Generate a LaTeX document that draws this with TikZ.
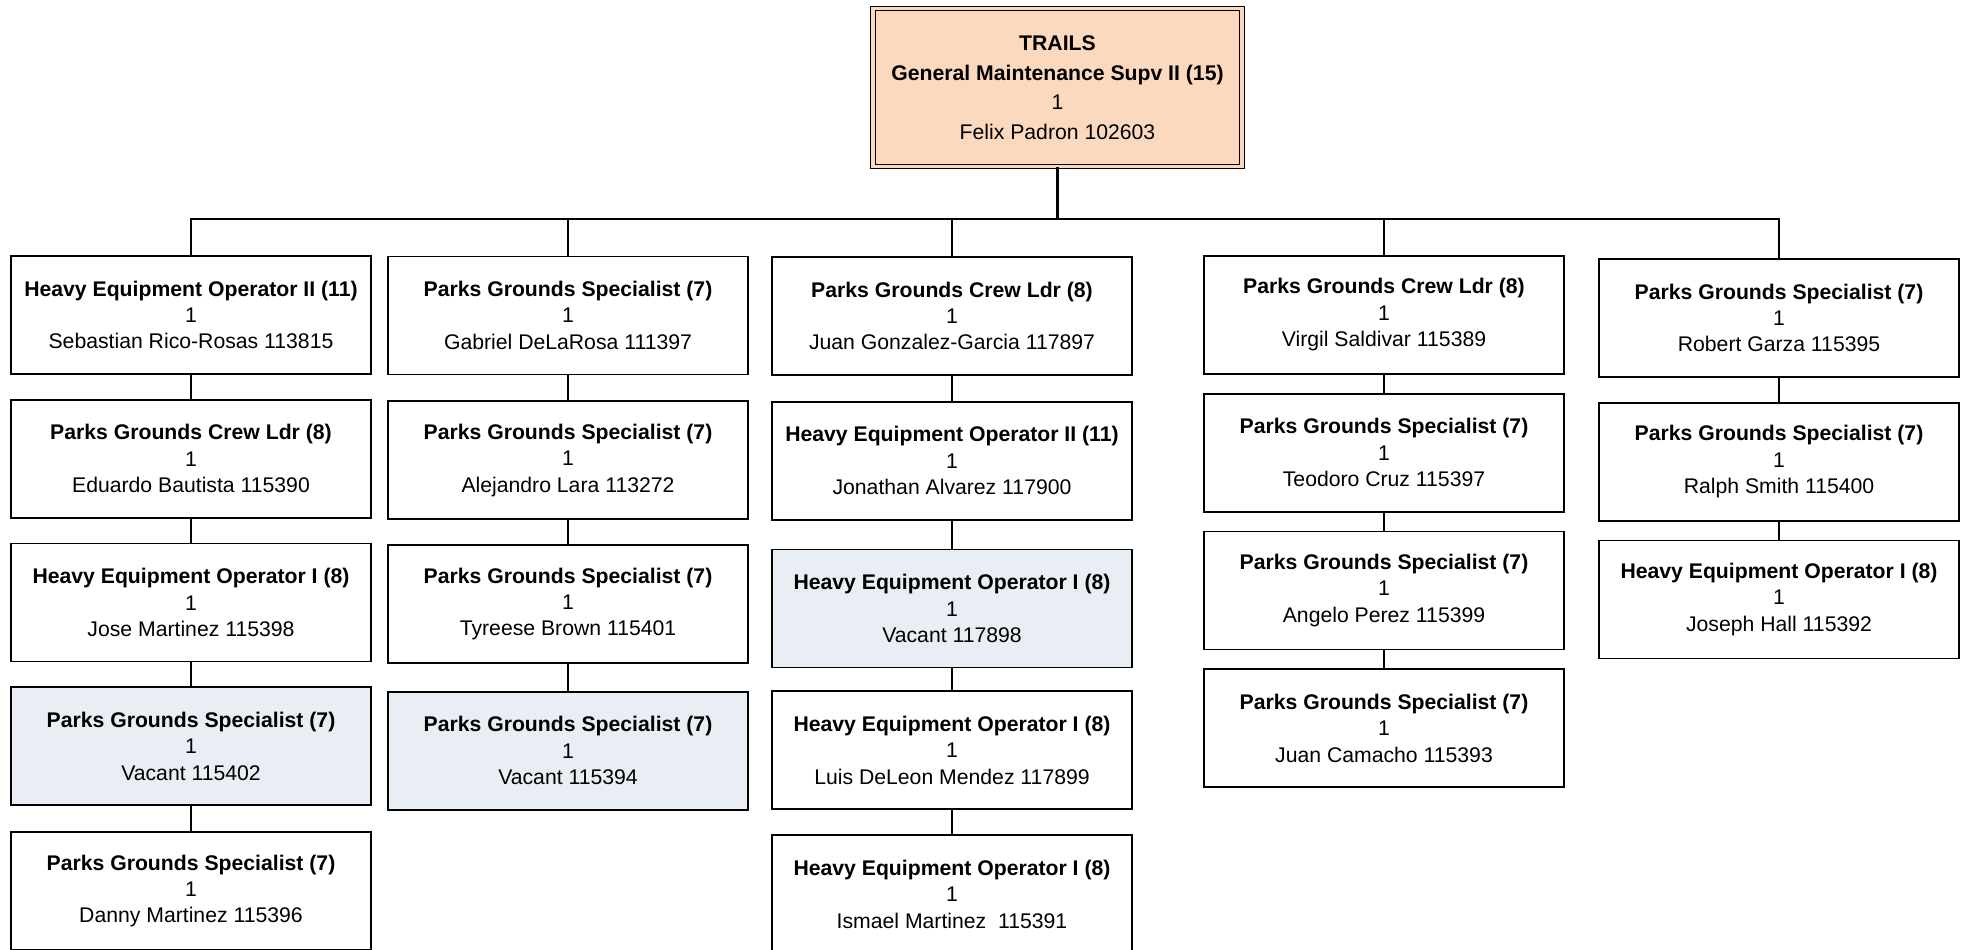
\documentclass[tikz,border=0pt]{standalone}
\usepackage{fontspec}
\setmainfont{Liberation Sans}
\usepackage{tikz}
\usetikzlibrary{positioning}

\definecolor{headfill}{RGB}{251,217,191}
\definecolor{vacantfill}{RGB}{233,237,244}

\begin{document}
\begin{tikzpicture}[
  x=0.5pt, y=-0.5pt,
  post/.style={draw, line width=0.9pt, minimum width=180pt, minimum height=59pt, inner sep=2pt,
    align=center, fill=white, font=\fontsize{10.6}{13.2}\selectfont},
  vacant/.style={post, fill=vacantfill},
  chief/.style={draw, line width=0.6pt, double=headfill, double distance=1.65pt, fill=headfill,
    minimum width=184.5pt, minimum height=79pt, inner sep=2pt, align=center,
    font=\fontsize{10.6}{14.8}\selectfont},
  link/.style={line width=0.9pt}
]
\useasboundingbox (0,0) rectangle (1965,949);

% --- Supervisor ---------------------------------------------------------------
\node[chief] (sup) at (1057.5,87.5) {\textbf{TRAILS}\\\textbf{General Maintenance Supv II (15)}\\1\\Felix Padron 102603};
\coordinate (bus) at (1057.5,219);

% --- Column 1 -----------------------------------------------------------------
\node[post, anchor=north] (a1) at (191,255) {\textbf{Heavy Equipment Operator II (11)}\\1\\Sebastian Rico-Rosas 113815};
\node[post, below=12pt of a1] (a2) {\textbf{Parks Grounds Crew Ldr (8)}\\1\\Eduardo Bautista 115390};
\node[post, below=12pt of a2] (a3) {\textbf{Heavy Equipment Operator I (8)}\\1\\Jose Martinez 115398};
\node[vacant, below=12pt of a3] (a4) {\textbf{Parks Grounds Specialist (7)}\\1\\Vacant 115402};
\node[post, below=12.5pt of a4] (a5) {\textbf{Parks Grounds Specialist (7)}\\1\\Danny Martinez 115396};

% --- Column 2 -----------------------------------------------------------------
\node[post, anchor=north] (b1) at (568,255.5) {\textbf{Parks Grounds Specialist (7)}\\1\\Gabriel DeLaRosa 111397};
\node[post, below=12.5pt of b1] (b2) {\textbf{Parks Grounds Specialist (7)}\\1\\Alejandro Lara 113272};
\node[post, below=12pt of b2] (b3) {\textbf{Parks Grounds Specialist (7)}\\1\\Tyreese Brown 115401};
\node[vacant, below=13.5pt of b3] (b4) {\textbf{Parks Grounds Specialist (7)}\\1\\Vacant 115394};

% --- Column 3 -----------------------------------------------------------------
\node[post, anchor=north] (c1) at (952,256) {\textbf{Parks Grounds Crew Ldr (8)}\\1\\Juan Gonzalez-Garcia 117897};
\node[post, below=12.5pt of c1] (c2) {\textbf{Heavy Equipment Operator II (11)}\\1\\Jonathan Alvarez 117900};
\node[vacant, below=14pt of c2] (c3) {\textbf{Heavy Equipment Operator I (8)}\\1\\Vacant 117898};
\node[post, below=11pt of c3] (c4) {\textbf{Heavy Equipment Operator I (8)}\\1\\Luis DeLeon Mendez 117899};
\node[post, below=12pt of c4] (c5) {\textbf{Heavy Equipment Operator I (8)}\\1\\Ismael Martinez\ \ 115391};

% --- Column 4 -----------------------------------------------------------------
\node[post, anchor=north] (d1) at (1384,255) {\textbf{Parks Grounds Crew Ldr (8)}\\1\\Virgil Saldivar 115389};
\node[post, below=9pt of d1] (d2) {\textbf{Parks Grounds Specialist (7)}\\1\\Teodoro Cruz 115397};
\node[post, below=9pt of d2] (d3) {\textbf{Parks Grounds Specialist (7)}\\1\\Angelo Perez 115399};
\node[post, below=9pt of d3] (d4) {\textbf{Parks Grounds Specialist (7)}\\1\\Juan Camacho 115393};

% --- Column 5 -----------------------------------------------------------------
\node[post, anchor=north] (e1) at (1779,258) {\textbf{Parks Grounds Specialist (7)}\\1\\Robert Garza 115395};
\node[post, below=12pt of e1] (e2) {\textbf{Parks Grounds Specialist (7)}\\1\\Ralph Smith 115400};
\node[post, below=9pt of e2] (e3) {\textbf{Heavy Equipment Operator I (8)}\\1\\Joseph Hall 115392};

% --- Reporting lines ------------------------------------------------------------
\draw[link, line width=1.3pt] (sup) -- (bus);
\draw[link] (bus) -| (a1);
\draw[link] (bus) -| (b1);
\draw[link] (bus) -| (c1);
\draw[link] (bus) -| (d1);
\draw[link] (bus) -| (e1);

\draw[link] (a1) -- (a2); \draw[link] (a2) -- (a3); \draw[link] (a3) -- (a4); \draw[link] (a4) -- (a5);
\draw[link] (b1) -- (b2); \draw[link] (b2) -- (b3); \draw[link] (b3) -- (b4);
\draw[link] (c1) -- (c2); \draw[link] (c2) -- (c3); \draw[link] (c3) -- (c4); \draw[link] (c4) -- (c5);
\draw[link] (d1) -- (d2); \draw[link] (d2) -- (d3); \draw[link] (d3) -- (d4);
\draw[link] (e1) -- (e2); \draw[link] (e2) -- (e3);

\end{tikzpicture}
\end{document}
